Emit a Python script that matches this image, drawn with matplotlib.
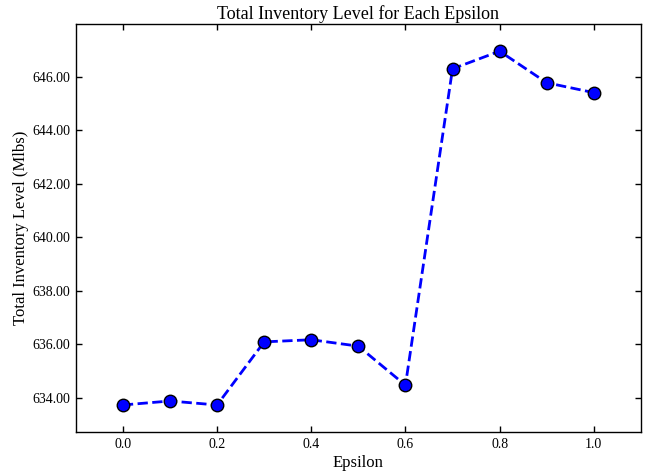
import numpy as np
import matplotlib
matplotlib.use("Agg")
from matplotlib import pyplot as plt
from matplotlib.ticker import FormatStrFormatter

epsilon = [0.0, 0.1, 0.2, 0.3, 0.4, 0.5, 0.6, 0.7, 0.8, 0.9, 1.0]
inventory = [633.72, 633.87, 633.72, 636.08, 636.16, 635.92, 634.46,
             646.29, 646.95, 645.77, 645.40]
yticks = [634, 636, 638, 640, 642, 644, 646]
xticks = [0.0, 0.2, 0.4, 0.6, 0.8, 1.0]

plt.rcParams['font.family'] = ['Liberation Serif', 'DejaVu Serif']
plt.rcParams['mathtext.fontset'] = 'stix'

fig = plt.figure(figsize=(6.48, 4.74), dpi=100)
ax = fig.add_axes([0.117, 0.0886, 0.872, 0.8604])

ax.plot(epsilon, inventory, linestyle='--', color='blue', linewidth=2,
        marker='o', markersize=9, markerfacecolor='blue',
        markeredgecolor='black', markeredgewidth=1)

ax.set_xlim(-0.1, 1.1)
ax.set_ylim(632.71, 647.96)
ax.set_xticks(xticks)
ax.set_yticks(yticks)
ax.xaxis.set_major_formatter(FormatStrFormatter('%.1f'))
ax.yaxis.set_major_formatter(FormatStrFormatter('%.2f'))
ax.tick_params(direction='in', top=True, right=True, length=4, width=1,
               labelsize=10, pad=4)
for s in ax.spines.values():
    s.set_linewidth(1)

ax.set_xlabel('Epsilon', fontsize=12, labelpad=3)
ax.set_ylabel('Total Inventory Level (Mlbs)', fontsize=12, labelpad=2)
ax.set_title('Total Inventory Level for Each Epsilon', fontsize=13, pad=4)

fig.savefig('out.png', dpi=100)
